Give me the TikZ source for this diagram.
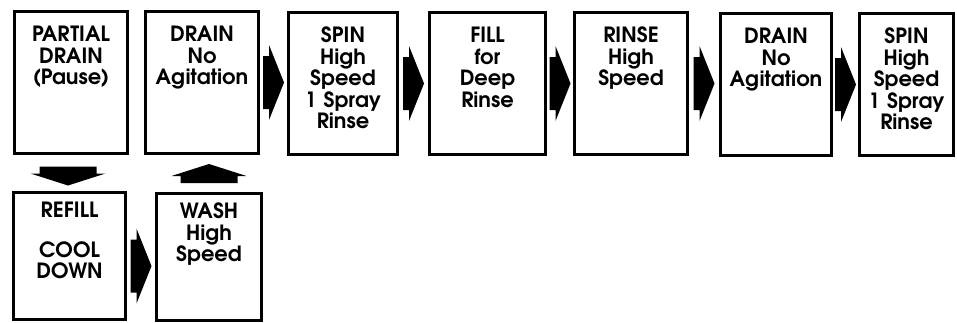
\documentclass[tikz,border=0pt]{standalone}
\usepackage[T1]{fontenc}
\usepackage{tikz}

\newcommand\stagefont{\fontfamily{pag}\fontseries{db}\fontsize{21}{21.5}\selectfont}

\tikzset{
  stage/.style={draw, line width=3pt, anchor=north west, inner xsep=2pt,
    inner ysep=3pt, align=center, text height=27pt, text depth=109pt,
    font=\stagefont},
  low/.style={text height=22pt, text depth=99pt},
  % block arrow pointing right
  harr/.pic={\fill (-10.5,-26.5) -- (-4.5,-26.5) -- (-4.5,-37.5) -- (10.5,0)
    -- (-4.5,37.5) -- (-4.5,26.5) -- (-10.5,26.5) -- cycle;},
  % block arrow pointing down
  varr/.pic={\fill (-28.5,-9.5) -- (28.5,-9.5) -- (28.5,-2.5) -- (37.5,-2.5)
    -- (0,9.5) -- (-37.5,-2.5) -- (-28.5,-2.5) -- cycle;}
}

\begin{document}
\begin{tikzpicture}[x=1pt,y=-1pt]
  \useasboundingbox (0,0) rectangle (957,322);

  % top row
  \node[stage, text width=109pt] (pdrain) at (13,10) {\textbf{PARTIAL}\\\textbf{DRAIN}\\(Pause)};
  \node[stage, text width=109pt] (drain1) at (144,10) {\textbf{DRAIN}\\No\\Agitation};
  \node[stage, text width=105pt] (spin1) at (287,11) {\textbf{SPIN}\\High\\Speed\\1 Spray\\Rinse};
  \node[stage, text width=112pt] (fill) at (428,11) {\textbf{FILL}\\for\\Deep\\Rinse};
  \node[stage, text width=109pt] (rinse) at (573,11) {\textbf{RINSE}\\High\\Speed};
  \node[stage, text width=107pt] (drain2) at (719,12) {\textbf{DRAIN}\\No\\Agitation};
  \node[stage, text width=90pt] (spin2) at (858,12) {\textbf{SPIN}\\High\\Speed\\1 Spray\\Rinse};

  % bottom row
  \node[stage, low, text width=108pt] (refill) at (12,191) {\textbf{REFILL}\\[18pt]COOL\\DOWN};
  \node[stage, low, text width=101pt] (wash) at (155,192) {\textbf{WASH}\\High\\Speed};

  \foreach \from/\to in {drain1/spin1,spin1/fill,fill/rinse,rinse/drain2,drain2/spin2}{
    \path (\from.east) -- coordinate[midway] (m) (\to.west |- \from.east);
    \pic at (m) {harr};
  }
  \path (refill.east) -- coordinate[midway] (m) (wash.west |- refill.east);
  \pic at ([yshift=-10pt]m) {harr};

  \path (pdrain.south) -- coordinate[midway] (m) (pdrain.south |- refill.north);
  \pic at ([xshift=-3pt,yshift=-3pt]m) {varr};
  \path (wash.north) -- coordinate[midway] (m) (wash.north |- drain1.south);
  \pic[rotate=180] at (m) {varr};

\end{tikzpicture}
\end{document}
